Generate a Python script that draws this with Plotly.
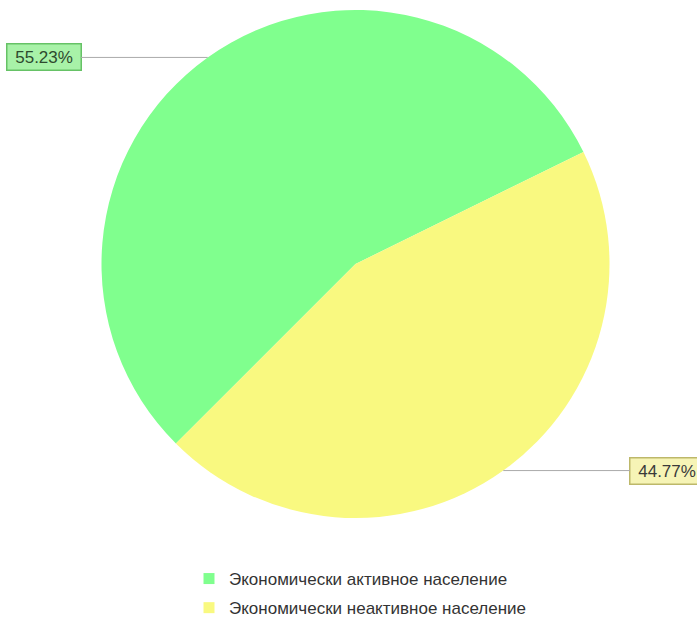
import math
import plotly.graph_objects as go

# ---- data ----
categories = ["Экономически активное население", "Экономически неактивное население"]
values = [55.23, 44.77]
label_texts = ["55.23%", "44.77%"]

# ---- style ----
colors = ["#80FF8E", "#F9F980"]
label_bg = ["#A8F2A8", "#F6F4B6"]
label_border = ["#66C266", "#BDB86A"]
label_font = ["#2E4A2E", "#3A3A3A"]
W, H = 697, 617
CX, CY, R = 355.5, 264, 254  # pixel center (from top) and radius
ROT = -135  # clockwise angle (from 12 o'clock) where first slice begins

fig = go.Figure()
fig.add_trace(go.Pie(
    labels=categories, values=values, sort=False, direction="counterclockwise",
    rotation=ROT, marker=dict(colors=colors, line=dict(width=0)),
    textinfo="none", hoverinfo="label+percent", showlegend=False,
    domain=dict(x=[(CX - R) / W, (CX + R) / W],
                y=[(H - CY - R) / H, (H - CY + R) / H]),
))

# legend entries (separate groups to get the wider spacing)
for i, (cat, col) in enumerate(zip(categories, colors)):
    fig.add_trace(go.Scatter(
        x=[None], y=[None], mode="markers", name=cat, legendgroup=f"g{i}",
        marker=dict(symbol="square", size=11, color=col, line=dict(width=0)),
    ))

# outside labels with horizontal leader lines (slice mid-angles from data)
total = sum(values)
end = ROT + values[0] / total * 360
annotations = []
for i, v in enumerate(values):
    span = v / total * 360
    mid = end - span / 2
    end -= span
    th = math.radians(mid)
    px = CX + R * math.sin(th)
    py = CY - R * math.cos(th)
    side = 1 if math.sin(th) > 0 else -1
    annotations.append(dict(
        x=px / W, y=(H - py) / H, xref="paper", yref="paper",
        text="\u00a0" + label_texts[i] + "\u00a0", showarrow=True, arrowhead=0,
        arrowwidth=1, arrowcolor="#AAAAAA", ax=side * 164, ay=0,
        font=dict(family="Liberation Sans, Arial", size=17, color=label_font[i]),
        bgcolor=label_bg[i], bordercolor=label_border[i], borderwidth=1.5,
        borderpad=3,
    ))

fig.update_layout(
    width=W, height=H, margin=dict(l=0, r=0, t=0, b=0, autoexpand=False),
    paper_bgcolor="white", plot_bgcolor="white",
    xaxis=dict(visible=False), yaxis=dict(visible=False),
    annotations=annotations,
    legend=dict(x=189 / W, xanchor="left", y=1 - 561 / H, yanchor="top",
                font=dict(family="Liberation Sans, Arial", size=17, color="#333333"),
                tracegroupgap=4, traceorder="grouped", bgcolor="rgba(0,0,0,0)"),
)

fig.write_html("out.html")
